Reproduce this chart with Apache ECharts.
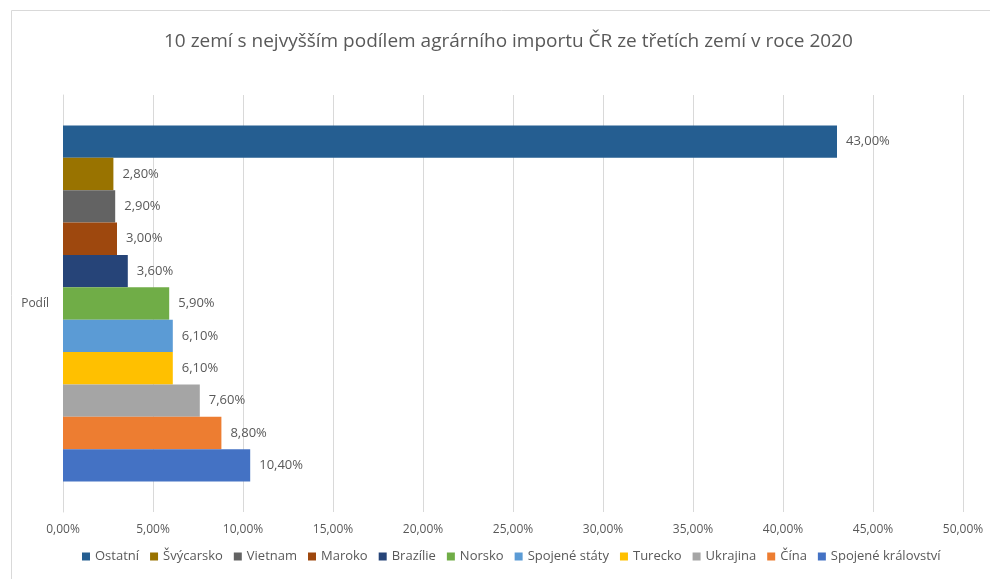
<!DOCTYPE html>
<html><head><meta charset="utf-8">
<script src="https://cdn.jsdelivr.net/npm/echarts@6/dist/echarts.min.js"></script>
<style>html,body{margin:0;padding:0;background:#fff}#c{width:990px;height:579px}</style>
</head><body><div id="c"></div>
<script>
const categories = ['Podíl'];
const seriesNames = ['Ostatní','Švýcarsko','Vietnam','Maroko','Brazílie','Norsko','Spojené státy','Turecko','Ukrajina','Čína','Spojené království'];
const seriesValues = [43.0, 2.8, 2.9, 3.0, 3.6, 5.9, 6.1, 6.1, 7.6, 8.8, 10.4];
const seriesColors = ['#255E91','#997300','#636363','#9E480E','#264478','#70AD47','#5B9BD5','#FFC000','#A5A5A5','#ED7D31','#4472C4'];
const titleText = '10 zemí s nejvyšším podílem agrárního importu ČR ze třetích zemí v roce 2020';

const fmt = v => v.toFixed(2).replace('.', ',') + '%';
const font = '"Open Sans", "Noto Sans", sans-serif';
const chart = echarts.init(document.getElementById('c'), null, {renderer:'canvas'});
chart.setOption({
  animation: false,
  title: {text: titleText, left: 159, top: 27, textStyle: {fontFamily: font, fontSize: 19, fontWeight: 'normal', color: '#595959'}},
  graphic: [{type:'rect', shape:{x:11.5, y:10.5, width:1000, height:600}, style:{fill:'none', stroke:'#D9D9D9', lineWidth:1}, silent:true}],
  legend: {bottom: 11, left: 77, itemWidth: 8, itemHeight: 8, itemGap: 11, icon: 'rect',
    textStyle: {fontFamily: font, fontSize: 13, color: '#595959'}, data: seriesNames},
  grid: {left: 63, right: 27, top: 95, bottom: 67, containLabel: false},
  xAxis: {type: 'value', min: 0, max: 50, interval: 5,
    axisLabel: {formatter: v => fmt(v), fontFamily: font, fontSize: 12, color: '#595959', margin: 12},
    splitLine: {show: true, lineStyle: {color: '#D9D9D9'}},
    axisLine: {show: false}, axisTick: {show: false}},
  yAxis: {type: 'category', data: categories, inverse: true,
    axisLabel: {fontFamily: font, fontSize: 12, color: '#595959', margin: 14},
    axisLine: {show: true, lineStyle: {color: '#D9D9D9'}}, axisTick: {show: false}},
  series: seriesNames.map((n, i) => ({
    name: n, type: 'bar', data: [seriesValues[i]], barGap: '0%', barCategoryGap: '14.6%',
    itemStyle: {color: seriesColors[i]},
    label: {show: true, position: 'right', distance: 9, formatter: p => fmt(p.value), fontFamily: font, fontSize: 13, color: '#595959'}
  }))
});
</script></body></html>
